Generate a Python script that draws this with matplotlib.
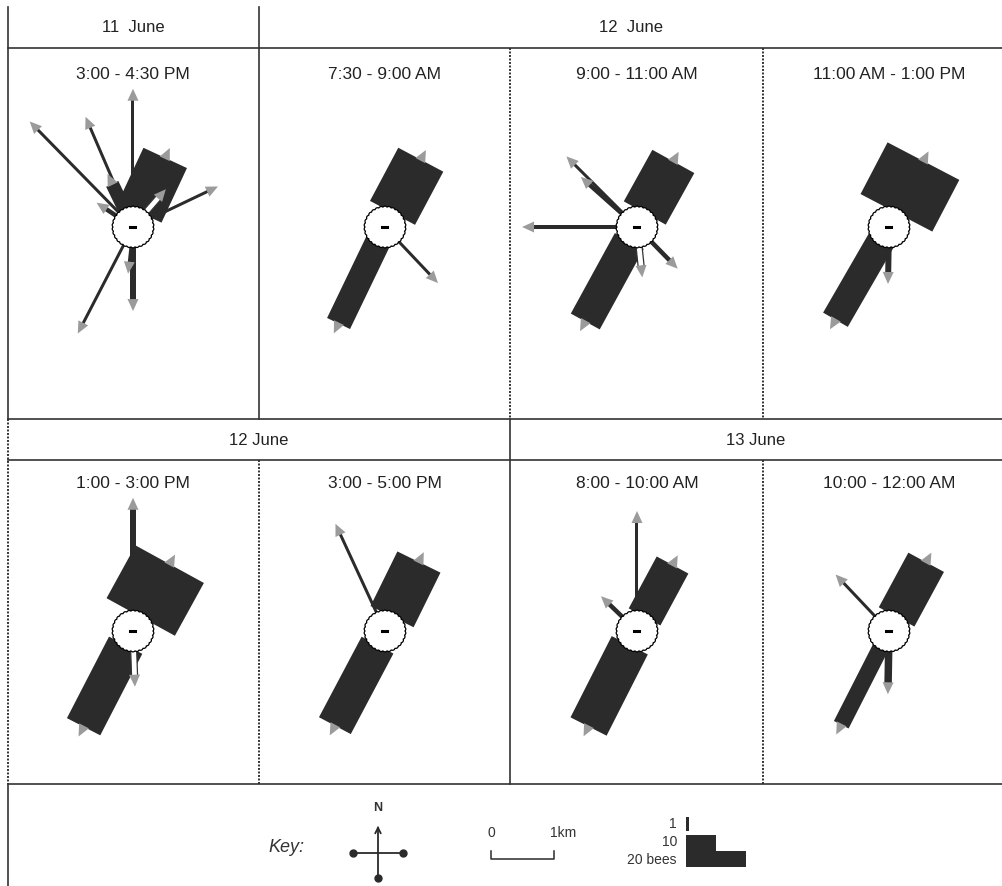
import numpy as np
import matplotlib.pyplot as plt
from matplotlib.patches import Polygon

# bee flight directions: bearing (deg from N), distance (km), number of bees
titles = ["3:00 - 4:30 PM", "7:30 - 9:00 AM", "9:00 - 11:00 AM", "11:00 AM - 1:00 PM",
          "1:00 - 3:00 PM", "3:00 - 5:00 PM", "8:00 - 10:00 AM", "10:00 - 12:00 AM"]

p1_bearing = [0, 315.6, 336.7, 334.3, 25, 64.5, 303.7, 180, 186, 207.4, 41]
p1_km      = [2.02, 2.17, 1.73, 0.76, 1.21, 1.32, 0.52, 1.16, 0.57, 1.73, 0.62]
p1_bees    = [1, 1, 1, 4.5, 16, 1, 1.5, 2, 1, 1, 2]
p1_hollow  = [0, 0, 0, 0, 0, 0, 0, 0, 0, 0, 1]

p2_bearing = [28, 205.7, 136.6]
p2_km      = [1.21, 1.70, 1.05]
p2_bees    = [17, 8.5, 1]
p2_hollow  = [0, 0, 0]

p3_bearing = [29, 208.7, 270, 315, 311.7, 174, 135.7]
p3_km      = [1.19, 1.71, 1.65, 1.41, 1.02, 0.63, 0.75]
p3_bees    = [16, 11, 1.5, 1, 1.5, 2, 1.5]
p3_hollow  = [0, 0, 0, 0, 0, 1, 0]

p4_bearing = [27.6, 210, 181]
p4_km      = [1.18, 1.70, 0.73]
p4_bees    = [27, 9.5, 2]
p4_hollow  = [0, 0, 0]

p5_bearing = [0, 28.8, 207.3, 178]
p5_km      = [1.94, 1.21, 1.71, 0.71]
p5_bees    = [2, 26, 12.5, 2]
p5_hollow  = [0, 0, 0, 1]

p6_bearing = [335.2, 26.2, 207.9]
p6_km      = [1.70, 1.22, 1.70]
p6_bees    = [1, 16, 12]
p6_hollow  = [0, 0, 0]

p7_bearing = [0, 28.3, 314, 206.9]
p7_km      = [1.73, 1.19, 0.62, 1.70]
p7_bees    = [1, 12, 1.5, 13.5]
p7_hollow  = [0, 0, 0, 0]

p8_bearing = [28.4, 316.6, 181, 207]
p8_km      = [1.24, 1.06, 0.83, 1.67]
p8_bees    = [13.5, 1, 2.5, 5.5]
p8_hollow  = [0, 0, 0, 0]

panels = [(p1_bearing, p1_km, p1_bees, p1_hollow), (p2_bearing, p2_km, p2_bees, p2_hollow),
          (p3_bearing, p3_km, p3_bees, p3_hollow), (p4_bearing, p4_km, p4_bees, p4_hollow),
          (p5_bearing, p5_km, p5_bees, p5_hollow), (p6_bearing, p6_km, p6_bees, p6_hollow),
          (p7_bearing, p7_km, p7_bees, p7_hollow), (p8_bearing, p8_km, p8_bees, p8_hollow)]

key_bees = [1, 10, 20]

PX_KM = 63.0    # scale bar length
PX_BEE = 3.0    # bar width per bee
HIVE_R = 20
DARK = '#2b2b2b'
GREY = '#9b9b9b'
LINE = '#333333'

plt.rcParams['font.family'] = ['Liberation Sans', 'DejaVu Sans']

fig = plt.figure(figsize=(10.03, 8.86), dpi=100)
ax = fig.add_axes([0, 0, 1, 1])
ax.set_xlim(0, 1003)
ax.set_ylim(886, 0)
ax.axis('off')


def ray(cx, cy, bearing, km, bees, hollow):
    b = np.radians(bearing)
    u = np.array([np.sin(b), -np.cos(b)])
    n = np.array([np.cos(b), np.sin(b)])
    c = np.array([cx, cy])
    r0, r1 = HIVE_R - 4, km * PX_KM
    hw = bees * PX_BEE / 2
    pts = [c + u * r0 + n * hw, c + u * r1 + n * hw, c + u * r1 - n * hw, c + u * r0 - n * hw]
    if hollow:
        ax.add_patch(Polygon(pts, fc='white', ec=LINE, lw=0.9, zorder=3))
    else:
        ax.add_patch(Polygon(pts, fc=DARK, ec='none', zorder=2))
    head = [c + u * (r1 - 1) + n * 5.5, c + u * (r1 + 11), c + u * (r1 - 1) - n * 5.5]
    ax.add_patch(Polygon(head, fc=GREY, ec='none', zorder=4))


def hive(cx, cy):
    t = np.linspace(0, 2 * np.pi, 600)
    r = HIVE_R + 0.9 * np.abs(np.sin(15 * t))
    ax.add_patch(Polygon(np.c_[cx + r * np.cos(t), cy + r * np.sin(t)],
                         fc='white', ec='black', lw=0.9, zorder=6))
    ax.plot([cx - 2.5, cx + 2.5], [cy, cy], color='black', lw=2.2, zorder=7)


hive_x = [133, 385, 637, 889]
hive_y = [227, 631]

for i, (brg, km, bees, hol) in enumerate(panels):
    cx, cy = hive_x[i % 4], hive_y[i // 4]
    for b, d, n, h in zip(brg, km, bees, hol):
        ray(cx, cy, b, d, n, h)
    hive(cx, cy)
    ax.text(cx, 74 if i < 4 else 483, titles[i], ha='center', va='center', fontsize=12.5, color='#222')

# grid
solid = dict(color=LINE, lw=1.2)
dotted = dict(color=LINE, lw=1.4, linestyle=(0, (1, 0.8)))
for y in [48, 419, 460, 784]:
    ax.plot([8, 1003], [y, y], **solid)
ax.plot([8, 8], [7, 419], **solid)
ax.plot([259, 259], [7, 419], **solid)
ax.plot([510, 510], [48, 419], **dotted)
ax.plot([763, 763], [48, 419], **dotted)
ax.plot([8, 8], [419, 784], **dotted)
ax.plot([510, 510], [419, 784], **solid)
ax.plot([259, 259], [460, 784], **dotted)
ax.plot([763, 763], [460, 784], **dotted)
ax.plot([8, 8], [784, 886], **solid)

ax.text(133, 27, "11  June", ha='center', va='center', fontsize=12, color='#222')
ax.text(631, 27, "12  June", ha='center', va='center', fontsize=12, color='#222')
ax.text(259, 440, "12 June", ha='center', va='center', fontsize=12, color='#222')
ax.text(756, 440, "13 June", ha='center', va='center', fontsize=12, color='#222')

# key
ax.text(286, 847, "Key:", ha='center', va='center', fontsize=13, style='italic', color='#333')
kx, ky, arm = 378, 853, 25
ax.plot([kx - arm, kx + arm], [ky, ky], color=DARK, lw=1.3)
ax.plot([kx, kx], [ky + arm, ky - arm], color=DARK, lw=1.3)
ax.plot([kx - arm, kx + arm, kx], [ky, ky, ky + arm], 'o', color=DARK, ms=5)
ax.annotate('', xy=(kx, ky - arm - 5), xytext=(kx, ky - arm + 4),
            arrowprops=dict(arrowstyle='->', color=DARK, lw=1.3))
ax.text(kx, 808, "N", ha='center', va='center', fontsize=9, fontweight='bold', color='#333')

sx, sy = 491, 859
ax.plot([sx, sx, sx + PX_KM, sx + PX_KM], [sy - 8, sy, sy, sy - 8], color=DARK, lw=1.1)
ax.text(sx, 833, "0", ha='center', va='center', fontsize=10, color='#333')
ax.text(sx + PX_KM + 9, 833, "1km", ha='center', va='center', fontsize=10, color='#333')

bx = 686
w1, w10, w20 = [k * PX_BEE for k in key_bees]
ax.add_patch(Polygon([(bx, 817), (bx + w1, 817), (bx + w1, 831), (bx, 831)], fc=DARK, ec='none'))
ax.add_patch(Polygon([(bx, 835), (bx + w10, 835), (bx + w10, 851), (bx + w20, 851),
                      (bx + w20, 867), (bx, 867)], fc=DARK, ec='none'))
ax.text(677, 824, "1", ha='right', va='center', fontsize=10, color='#333')
ax.text(677, 842, "10", ha='right', va='center', fontsize=10, color='#333')
ax.text(677, 860, "20 bees", ha='right', va='center', fontsize=10, color='#333')

fig.savefig("out.png", dpi=100, facecolor='white')
